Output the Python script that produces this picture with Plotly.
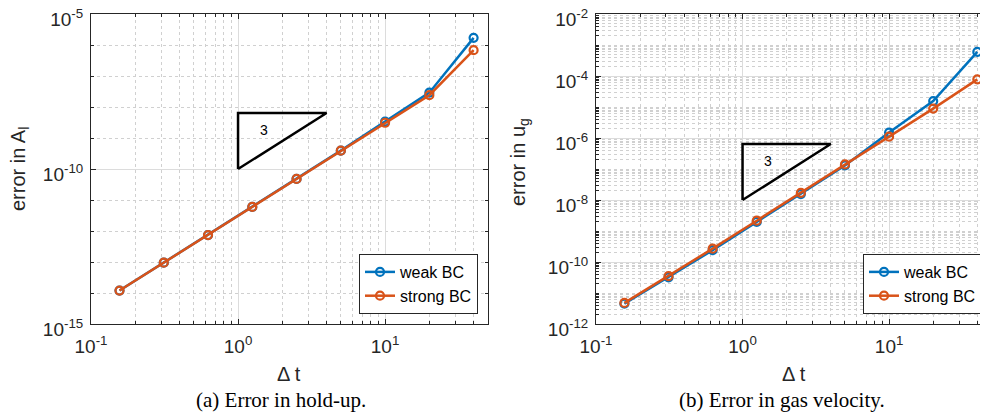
import math
import plotly.graph_objects as go

# ---- data ----
dt = [0.15625, 0.3125, 0.625, 1.25, 2.5, 5, 10, 20, 40]
hold_weak = [1.2e-14, 9.5e-14, 7.4e-13, 6.0e-12, 4.8e-11, 3.9e-10, 3.4e-9, 2.9e-8, 1.7e-6]
hold_strong = [1.2e-14, 9.5e-14, 7.4e-13, 6.0e-12, 4.8e-11, 3.9e-10, 3.1e-9, 2.4e-8, 6.8e-7]
gas_weak = [4.5e-12, 3.2e-11, 2.4e-10, 1.95e-9, 1.55e-8, 1.3e-7, 1.5e-6, 1.55e-5, 6.0e-4]
gas_strong = [4.8e-12, 3.5e-11, 2.7e-10, 2.15e-9, 1.7e-8, 1.4e-7, 1.1e-6, 8.9e-6, 7.8e-5]
series_names = ["weak BC", "strong BC"]

# slope triangles (order 3)
tri_x = [1, 1, 4, 1]
tri_slope = 3
tri_base_hold = 1e-10
tri_base_gas = 1e-8
tri_label = "3"

x_tickvals = [0.1, 1, 10]
x_ticktext = ["10<sup>-1</sup>", "10<sup>0</sup>", "10<sup>1</sup>"]
yl_tickvals = [1e-15, 1e-10, 1e-5]
yl_ticktext = ["10<sup>-15</sup>", "10<sup>-10</sup>", "10<sup>-5</sup>"]
yr_tickvals = [1e-12, 1e-10, 1e-8, 1e-6, 1e-4, 1e-2]
yr_ticktext = ["10<sup>-12</sup>", "10<sup>-10</sup>", "10<sup>-8</sup>", "10<sup>-6</sup>", "10<sup>-4</sup>", "10<sup>-2</sup>"]

BLUE = "#0072BD"
ORANGE = "#D95319"
AXC = "#262626"
SANS = "Liberation Sans, Arial, sans-serif"
SERIF = "Liberation Serif, DejaVu Serif, serif"

# page has an 8px body margin: figure is laid out in screen pixels minus that offset
OFF = 8
W, H = 988 - OFF, 415 - OFF

def px(xp):
    return (xp - OFF) / W

def py(yp):
    return 1 - (yp - OFF) / H

fig = go.Figure()

def add_series(xa, ya, weak, strong, leg):
    for name, vals, col in [(series_names[0], weak, BLUE), (series_names[1], strong, ORANGE)]:
        fig.add_trace(go.Scatter(
            x=dt, y=vals, name=name, mode="lines+markers",
            line=dict(color=col, width=2.5),
            marker=dict(symbol="circle-open", size=8, color=col, line=dict(width=2.2, color=col)),
            xaxis=xa, yaxis=ya, legend=leg))

def tri_y(base):
    top = base * (tri_x[2] / tri_x[0]) ** tri_slope
    return [base, top, top, base]

add_series("x", "y", hold_weak, hold_strong, "legend")
add_series("x2", "y2", gas_weak, gas_strong, "legend2")

for xa, ya, base in [("x", "y", tri_base_hold), ("x2", "y2", tri_base_gas)]:
    ty = tri_y(base)
    fig.add_trace(go.Scatter(x=tri_x, y=ty, mode="lines",
                             line=dict(color="black", width=2.5),
                             showlegend=False, xaxis=xa, yaxis=ya, hoverinfo="skip"))
    fig.add_annotation(x=0.176, y=0.3 * math.log10(ty[0]) + 0.7 * math.log10(ty[1]),
                       xref=xa, yref=ya, text=tri_label, showarrow=False,
                       xanchor="center", yanchor="middle",
                       font=dict(family=SANS, size=14, color="black"))

grid_major = "#DCDCDC"
grid_minor = "#D0D0D0"
TICKFONT = dict(family=SANS, size=19, color=AXC)
YDOM = [py(324), py(14)]

def xaxis_cfg(domain, rng):
    return dict(type="log", domain=domain, range=rng, automargin=False,
                tickvals=x_tickvals, ticktext=x_ticktext,
                ticks="inside", ticklen=5, tickcolor=AXC, tickwidth=1,
                showline=True, linecolor=AXC, linewidth=1, mirror="ticks",
                showgrid=True, gridcolor=grid_major, gridwidth=1,
                zeroline=False, ticklabelstandoff=5, ticklabeloverflow="allow",
                tickfont=TICKFONT,
                minor=dict(tickmode="linear", dtick="D1", showgrid=True, gridcolor=grid_minor,
                           griddash="dot", ticks="inside", ticklen=3, tickcolor=AXC))

def yaxis_cfg(anchor, rng, tv, tt, minor_dtick):
    return dict(type="log", domain=YDOM, range=rng, anchor=anchor, automargin=False,
                tickvals=tv, ticktext=tt,
                ticks="inside", ticklen=5, tickcolor=AXC, tickwidth=1,
                showline=True, linecolor=AXC, linewidth=1, mirror="ticks",
                showgrid=True, gridcolor=grid_major, gridwidth=1,
                zeroline=False, ticklabelstandoff=3, ticklabelshift=5,
                ticklabeloverflow="allow",
                tickfont=TICKFONT,
                minor=dict(tickmode="linear", dtick=minor_dtick, showgrid=True, gridcolor=grid_minor,
                           griddash="dot", ticks="inside", ticklen=3, tickcolor=AXC))

legend_common = dict(bgcolor="white", bordercolor=AXC, borderwidth=1,
                     font=dict(family=SANS, size=16, color="black"),
                     xanchor="right", yanchor="bottom", tracegroupgap=0, itemwidth=30)

fig.update_layout(
    width=W, height=H,
    margin=dict(l=0, r=0, t=0, b=0, pad=0),
    paper_bgcolor="white", plot_bgcolor="white",
    xaxis=xaxis_cfg([px(91), px(488)], [-1, 1.70]),
    yaxis=yaxis_cfg("x", [-15, -5], yl_tickvals, yl_ticktext, 1),
    xaxis2=dict(xaxis_cfg([px(596), 1.0], [-1, 1.675]), anchor="y2"),
    yaxis2=yaxis_cfg("x2", [-12, -2], yr_tickvals, yr_ticktext, "D1"),
    legend=dict(legend_common, x=px(478), y=py(314)),
    legend2=dict(legend_common, x=px(982), y=py(314)),
    showlegend=True,
)

def label(xp, yp, text, font, angle=0):
    fig.add_annotation(x=px(xp), y=py(yp), xref="paper", yref="paper",
                       text=text, textangle=angle, showarrow=False,
                       xanchor="center", yanchor="middle", font=font)

AXFONT = dict(family=SANS, size=20, color=AXC)
CAPFONT = dict(family=SERIF, size=21, color="black")
label(19, 169, "error in A<sub>l</sub>", AXFONT, -90)
label(519, 162, "error in u<sub>g</sub>", AXFONT, -90)
label(289, 374, "Δ t", AXFONT)
label(794, 374, "Δ t", AXFONT)
label(281, 400, "(a) Error in hold-up.", CAPFONT)
label(782, 400, "(b) Error in gas velocity.", CAPFONT)

fig.write_html("out.html")
